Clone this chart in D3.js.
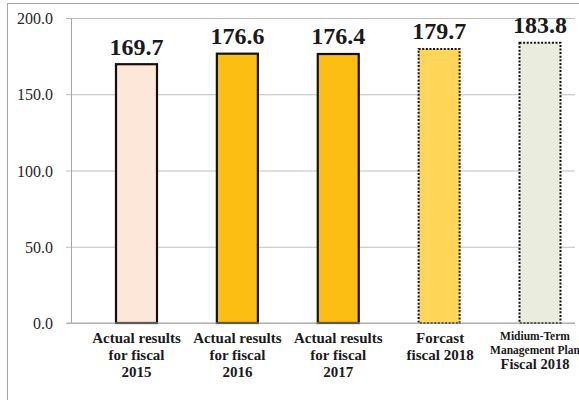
<!DOCTYPE html>
<html>
<head>
<meta charset="utf-8">
<script src="https://cdn.jsdelivr.net/npm/d3@7/dist/d3.min.js"></script>
<style>
  html, body { margin: 0; padding: 0; background: #fff; }
</style>
</head>
<body>
<svg id="chart" width="579" height="400"></svg>
<script>
// Categories, values and tick labels
const categories = ["fy2015", "fy2016", "fy2017", "forecast2018", "plan2018"];
const categoryLines = [
  ["Actual results", "for fiscal", "2015"],
  ["Actual results", "for fiscal", "2016"],
  ["Actual results", "for fiscal", "2017"],
  ["Forcast", "fiscal 2018"],
  ["Midium-Term", "Management Plan", "Fiscal 2018"]
];
const values = [169.7, 176.6, 176.4, 179.7, 183.8];
const yTicks = [0, 50, 100, 150, 200];

const fills = ["#FCE7D8", "#FDBE14", "#FDBE14", "#FFD657", "#EAEDDD"];
const dotted = [false, false, false, true, true];

const FONT = "\"Liberation Serif\", \"Times New Roman\", serif";
const svg = d3.select("#chart");

// Outer frame
svg.append("rect")
  .attr("x", 7.5).attr("y", 3.5)
  .attr("width", 640).attr("height", 520)
  .attr("fill", "none")
  .attr("stroke", "#a6a6a6")
  .attr("stroke-width", 1);

const plotLeft = 71, plotRight = 575, plotTop = 18, plotBottom = 323;

const y = d3.scaleLinear().domain([0, 200]).range([plotBottom, plotTop]);
const x = d3.scalePoint().domain(categories).range([136.5, 540]);
const barWidth = 41;

// Gridlines and left ticks
const yAxis = d3.axisLeft(y)
  .tickValues(yTicks)
  .tickSize(-(plotRight - plotLeft))
  .tickFormat(d => d3.format(".1f")(d));

const gAxis = svg.append("g")
  .attr("transform", `translate(${plotLeft},0)`)
  .call(yAxis);
gAxis.select(".domain").remove();
gAxis.selectAll(".tick line")
  .attr("x1", -5)
  .attr("stroke", "#bfbfbf")
  .attr("stroke-width", 1.2);
gAxis.selectAll(".tick text")
  .attr("x", -18)
  .attr("dy", "0.35em")
  .attr("fill", "#262626")
  .style("font-family", FONT)
  .style("font-size", "16px");

// Vertical axis line
svg.append("line")
  .attr("x1", plotLeft + 0.5).attr("x2", plotLeft + 0.5)
  .attr("y1", plotTop).attr("y2", plotBottom)
  .attr("stroke", "#a6a6a6")
  .attr("stroke-width", 1);

// Bars
const rows = categories.map((c, i) => ({ c, v: values[i], fill: fills[i], dotted: dotted[i], lines: categoryLines[i] }));

svg.append("g").selectAll("rect")
  .data(rows)
  .join("rect")
  .attr("x", d => x(d.c) - barWidth / 2)
  .attr("y", d => y(d.v))
  .attr("width", barWidth)
  .attr("height", d => y(0) - y(d.v))
  .attr("fill", d => d.fill)
  .attr("stroke", "#111")
  .attr("stroke-width", d => d.dotted ? 2 : 2.2)
  .attr("stroke-dasharray", d => d.dotted ? "2 1.6" : null);

// Baseline over the bar bottoms
svg.append("line")
  .attr("x1", plotLeft - 4).attr("x2", plotRight)
  .attr("y1", plotBottom).attr("y2", plotBottom)
  .attr("stroke", "#a6a6a6")
  .attr("stroke-width", 1.2);

// Value labels
svg.append("g").selectAll("text")
  .data(rows)
  .join("text")
  .attr("x", d => x(d.c))
  .attr("y", d => y(d.v) - 9.5)
  .attr("text-anchor", "middle")
  .attr("fill", "#1a1a1a")
  .style("font-family", FONT)
  .style("font-weight", "bold")
  .style("font-size", "24px")
  .text(d => d.v.toFixed(1));

// Category labels
const lineLayouts = [
  [{ dy: 343, size: 15 }, { dy: 360, size: 15 }, { dy: 377, size: 15 }],
  [{ dy: 343, size: 15 }, { dy: 360, size: 15 }, { dy: 377, size: 15 }],
  [{ dy: 343, size: 15 }, { dy: 360, size: 15 }, { dy: 377, size: 15 }],
  [{ dy: 343, size: 15 }, { dy: 360, size: 15 }],
  [{ dy: 340, size: 11.5 }, { dy: 354, size: 11.5 }, { dy: 369, size: 14.5 }]
];
const labelShift = [0, 0, 0, 1, -5];

rows.forEach((d, i) => {
  const g = svg.append("g");
  d.lines.forEach((line, j) => {
    g.append("text")
      .attr("x", x(d.c) + labelShift[i])
      .attr("y", lineLayouts[i][j].dy)
      .attr("text-anchor", "middle")
      .attr("fill", "#1a1a1a")
      .style("font-family", FONT)
      .style("font-weight", "bold")
      .style("font-size", lineLayouts[i][j].size + "px")
      .text(line);
  });
});
</script>
</body>
</html>
